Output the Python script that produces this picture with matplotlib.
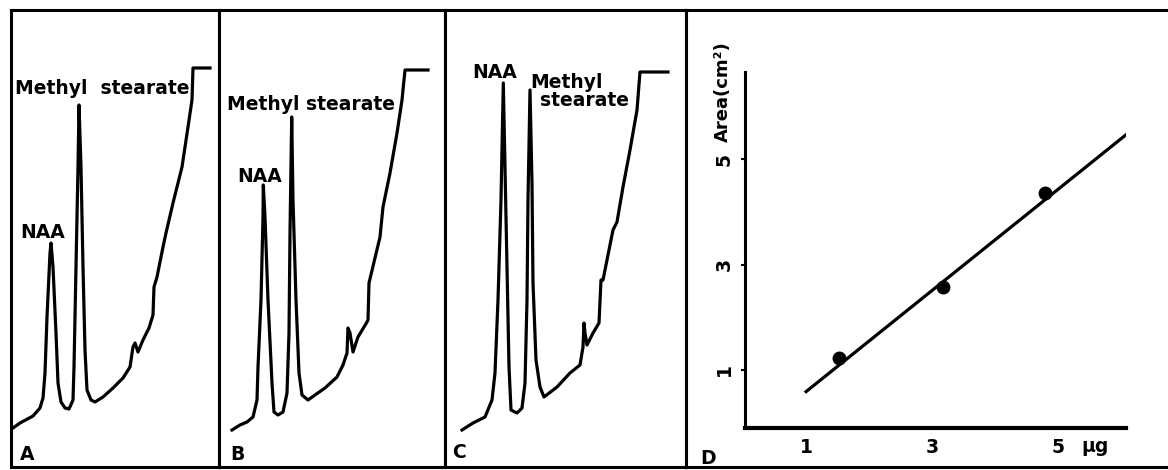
# Gas chromatograms of NAA with methyl stearate (A-C) and calibration line (D)
import matplotlib.pyplot as plt

W, H = 1168, 470
TOP, BOT = 10, 467          # frame edges in pixels
plt.rcParams['font.family'] = ['DejaVu Sans']
plt.rcParams['font.weight'] = 'bold'

# chromatogram traces: chart position (mm-ish) vs detector response
tA = [2, 9, 22, 29, 32, 34, 36, 39, 40, 42, 45, 47, 50, 54, 58, 62, 63, 65, 67, 68, 70, 72, 74, 76,
      80, 84, 92, 102, 112, 119, 122, 124, 127, 132, 138, 142, 143, 146, 152, 155, 162, 171, 177,
      181, 182, 199]
rA = [39, 44, 51, 59, 69, 94, 150, 214, 224, 200, 134, 84, 65, 59, 58, 67, 100, 200, 300, 362, 300,
      200, 117, 77, 67, 65, 70, 79, 89, 100, 120, 124, 115, 127, 139, 152, 180, 190, 220, 234, 264,
      300, 340, 367, 399, 399]

tB = [13, 21, 28, 34, 38, 39, 42, 44, 44.3, 46, 49, 53, 55, 59, 64, 68, 70, 71, 72.7, 74, 77, 80,
      83, 89, 96, 106, 118, 124, 128, 129, 131, 134, 139, 148, 149, 150, 161, 164, 171, 178, 183,
      186, 209]
rB = [37, 42, 45, 50, 67, 100, 167, 250, 282, 250, 167, 84, 55, 52, 55, 74, 134, 234, 350, 267,
      167, 94, 72, 67, 72, 79, 90, 102, 114, 139, 134, 115, 130, 145, 147, 184, 230, 260, 294, 334,
      367, 397, 397]

tC = [17, 28, 40, 47, 50, 53, 56, 58.3, 60, 62, 64, 66, 72, 77, 80, 82, 83, 85, 87, 88, 91, 95, 99,
      112, 125, 135, 138, 139, 140, 142, 148, 154, 156, 158, 168, 172, 178, 185, 192, 195, 223]
rC = [37, 44, 50, 67, 94, 167, 267, 384, 300, 200, 100, 57, 54, 59, 84, 167, 267, 377, 284, 184,
      107, 80, 70, 80, 94, 102, 120, 144, 134, 122, 134, 144, 187, 187, 237, 245, 280, 317, 357,
      395, 395]

# calibration (D)
amount_ug = [1.52, 3.17, 4.79]
area_cm2 = [1.23, 2.58, 4.36]
fit_x = [1.0, 6.08]
fit_y = [0.59, 5.46]
x_ticks = [1, 3, 5]
y_ticks = [1, 3, 5]

fig = plt.figure(figsize=(W / 100, H / 100), dpi=100)


def panel(x0, x1):
    ax = fig.add_axes([x0 / W, (H - BOT) / H, (x1 - x0) / W, (BOT - TOP) / H])
    ax.set_xlim(0, x1 - x0)
    ax.set_ylim(0, BOT - TOP)
    ax.set_xticks([])
    ax.set_yticks([])
    for s in ax.spines.values():
        s.set_linewidth(2.2)
    return ax


fs = 13.5
lw = 2.3
axA = panel(11, 219)
axA.plot(tA, rA, color='black', lw=lw)
axA.text(4, 379, 'Methyl  stearate', fontsize=fs, va='center')
axA.text(9, 234, 'NAA', fontsize=fs, va='center')
axA.text(9, 12, 'A', fontsize=fs, va='center')

axB = panel(219, 445)
axB.plot(tB, rB, color='black', lw=lw)
axB.text(8, 362, 'Methyl stearate', fontsize=fs, va='center')
axB.text(18, 291, 'NAA', fontsize=fs, va='center')
axB.text(11, 12, 'B', fontsize=fs, va='center')

axC = panel(445, 686)
axC.plot(tC, rC, color='black', lw=lw)
axC.text(27, 394, 'NAA', fontsize=fs, va='center')
axC.text(85, 385, 'Methyl', fontsize=fs, va='center')
axC.text(95, 367, 'stearate', fontsize=fs, va='center')
axC.text(7, 14, 'C', fontsize=fs, va='center')

axDf = panel(686, 1180)
axDf.spines['right'].set_visible(False)
axDf.text(14, 8, 'D', fontsize=fs, va='center')

# inner calibration plot
axD = fig.add_axes([745 / W, (H - 428) / H, (1126 - 745) / W, (428 - 72) / H])
axD.patch.set_alpha(0)
axD.set_xlim(0.03, 6.08)
axD.set_ylim(-0.1, 6.65)
axD.plot(fit_x, fit_y, color='black', lw=lw)
axD.plot(amount_ug, area_cm2, 'o', color='black', ms=9)
axD.spines['top'].set_visible(False)
axD.spines['right'].set_visible(False)
axD.spines['left'].set_linewidth(2.2)
axD.spines['bottom'].set_linewidth(3)
axD.set_xticks(x_ticks)
axD.set_yticks(y_ticks)
axD.tick_params(axis='x', length=0, pad=7, labelsize=13.5)
axD.tick_params(axis='y', length=3, width=1.5, pad=5, labelsize=13.5)
for lab in axD.get_yticklabels():
    lab.set_rotation(90)
    lab.set_va('center')
fig.text(723 / W, 1 - 92 / H, 'Area(cm²)', rotation=90, ha='center', va='center', fontsize=13)
fig.text(1095 / W, 1 - 447 / H, 'μg', ha='center', va='center', fontsize=13.5)

fig.savefig('out.png', dpi=100)
